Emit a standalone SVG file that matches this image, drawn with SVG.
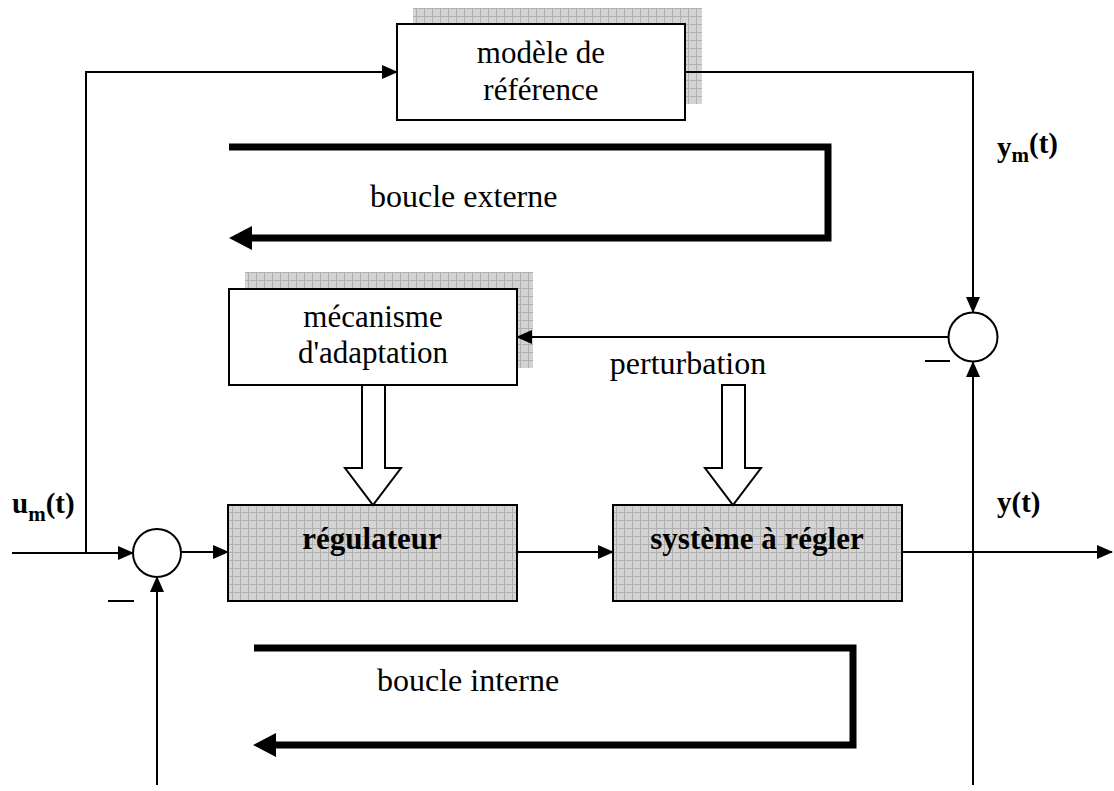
<svg xmlns="http://www.w3.org/2000/svg" width="1114" height="791" viewBox="0 0 1114 791">
<style>
.t{font-family:"Liberation Serif","Times New Roman",serif;font-size:31px;fill:#000}
.b{font-weight:bold}
.lg{font-size:32px}
.ln{stroke:#000;stroke-width:2;fill:none}
.thick{stroke:#000;stroke-width:7;fill:none}
.box{fill:#fff;stroke:#000;stroke-width:2}
.gbox{fill:url(#grid);stroke:#000;stroke-width:2}
.shadow{fill:url(#grid);stroke:none}
.hollow{fill:#fff;stroke:#000;stroke-width:2}
</style>
<defs>
<pattern id="grid" width="8" height="8" patternUnits="userSpaceOnUse">
<rect width="8" height="8" fill="#d4d4d4"/>
<path d="M0 0.5H8M0.5 0V8" stroke="#b0b0b0" stroke-width="1"/>
</pattern>
<marker id="ah" markerWidth="16" markerHeight="14" refX="15" refY="7" orient="auto" markerUnits="userSpaceOnUse">
<path d="M0 0L16 7L0 14Z" fill="#000"/>
</marker>
</defs>

<g id="modele">
<rect class="shadow" x="413" y="8" width="289" height="96"/>
<rect class="box" x="397" y="24" width="288" height="96"/>
<text class="t" x="541" y="63" text-anchor="middle">modèle de</text>
<text class="t" x="541" y="100" text-anchor="middle">référence</text>
</g>

<g id="mecanisme">
<rect class="shadow" x="245" y="272" width="288" height="96"/>
<rect class="box" x="229" y="289" width="288" height="96"/>
<text class="t" x="373" y="327" text-anchor="middle">mécanisme</text>
<text class="t" x="373" y="363" text-anchor="middle">d'adaptation</text>
</g>

<g id="regulateur">
<rect class="gbox" x="228" y="505" width="289" height="96"/>
<text class="t b" x="372" y="549" text-anchor="middle">régulateur</text>
</g>

<g id="systeme">
<rect class="gbox" x="613" y="505" width="289" height="96"/>
<text class="t b" x="757" y="549" text-anchor="middle">système à régler</text>
</g>

<g id="sum1">
<circle class="box" cx="157" cy="553" r="24"/>
<line class="ln" x1="108" y1="601" x2="134" y2="601"/>
</g>

<g id="sum2">
<circle class="box" cx="973" cy="337" r="24.5"/>
<line class="ln" x1="925" y1="361" x2="950" y2="361"/>
</g>

<g id="perturbation">
<text class="t lg" x="688" y="374" text-anchor="middle">perturbation</text>
</g>

<g id="labels">
<text class="t b" x="12" y="513" style="font-size:29px">u<tspan dy="8" style="font-size:21px">m</tspan><tspan dy="-8">(t)</tspan></text>
<text class="t b" x="997" y="157" style="font-size:29px">y<tspan dy="5" style="font-size:21px">m</tspan><tspan dy="-9">(t)</tspan></text>
<text class="t b" x="997" y="512" style="font-size:29px">y(t)</text>
</g>

<g id="connectors">
<polyline class="ln" points="12,553 86,553 133,553" marker-end="url(#ah)"/>
<polyline class="ln" points="86,553 86,72 397,72" marker-end="url(#ah)"/>
<polyline class="ln" points="685,72 973,72 973,312" marker-end="url(#ah)"/>
<line class="ln" x1="948" y1="337" x2="517" y2="337" marker-end="url(#ah)"/>
<line class="ln" x1="181" y1="552" x2="228" y2="552" marker-end="url(#ah)"/>
<line class="ln" x1="517" y1="552" x2="613" y2="552" marker-end="url(#ah)"/>
<line class="ln" x1="902" y1="552" x2="1112" y2="552" marker-end="url(#ah)"/>
<line class="ln" x1="973" y1="785" x2="973" y2="362" marker-end="url(#ah)"/>
<line class="ln" x1="157" y1="785" x2="157" y2="577" marker-end="url(#ah)"/>
<path class="hollow" d="M362 385V468H345L373 505L401 468H385V385Z"/>
<path class="hollow" d="M722 385V468H705L733 505L761 468H745V385Z"/>
</g>

<g id="boucle-externe">
<polyline class="thick" points="229,147 828,147 828,238 250,238"/>
<path d="M229 238L252 226V250Z" fill="#000"/>
<text class="t lg" x="370" y="207">boucle externe</text>
</g>

<g id="boucle-interne">
<polyline class="thick" points="254,648 853,648 853,745 275,745"/>
<path d="M253 745L276 733V757Z" fill="#000"/>
<text class="t lg" x="377" y="691">boucle interne</text>
</g>
</svg>
